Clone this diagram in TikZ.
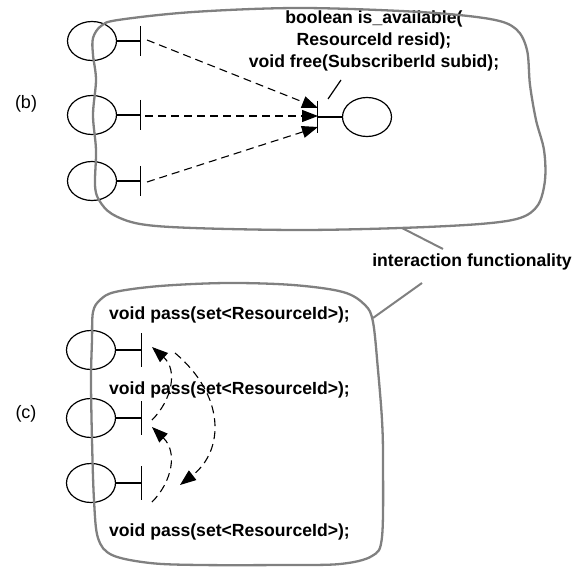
\documentclass[tikz,border=0pt]{standalone}
\usepackage{fontspec}
\setmainfont{Liberation Sans}
\usetikzlibrary{arrows.meta,shapes.geometric,calc}
\definecolor{cloudgray}{RGB}{128,128,128}
\begin{document}
\begin{tikzpicture}[x=1pt,y=-1pt,
  lol/.style={draw,ellipse,minimum width=49pt,minimum height=39pt,inner sep=0pt,line width=1.2pt},
  stem/.style={line width=1.2pt},
  cloudline/.style={draw=cloudgray,line width=2.3pt},
  pointer/.style={draw=cloudgray,line width=2pt},
  dasharrow/.style={line width=1.1pt,dash pattern=on 8pt off 5pt,-{Triangle[length=16pt,width=12pt]}},
  lbl/.style={font=\bfseries\fontsize{17.6}{22}\selectfont,inner sep=0pt},
  tag/.style={font=\fontsize{18}{20}\selectfont,inner sep=0pt},
]
\useasboundingbox (0,0) rectangle (581,567);

% ---------- (b) ----------
\node[tag] (tb) at (26,104) {(b)};
\node[lol] (b1) at (92,41) {};
\node[lol] (b2) at (92,115) {};
\node[lol] (b3) at (92,181) {};
\node[lol] (br) at (367,117) {};
\foreach \n in {b1,b2,b3}{
  \draw[stem] (\n.east) -- ++(23.5,0) coordinate (\n bar);
  \draw[stem] ($(\n bar)+(0,-15)$) -- ($(\n bar)+(0,15)$);
}
\draw[stem] (br.west) -- ++(-24.5,0) coordinate (brbar);
\draw[stem] ($(brbar)+(0,-16)$) -- ($(brbar)+(0,16)$);

\coordinate (s1) at (147,40);
\coordinate (s2) at (145,116);
\coordinate (s3) at (147,182);
\coordinate (e1) at (318,108);
\coordinate (e2) at (318,116);
\coordinate (e3) at (318,127);
\draw[dasharrow] (s1) -- (e1);
\draw[dasharrow] (s2) -- (e2);
\draw[dasharrow] (s3) -- (e3);

\node[lbl,align=center] (iface) at (374,41)
  {boolean is\_available(\\ResourceId resid);\\void free(SubscriberId subid);};
\coordinate (slashA) at (341,80);
\coordinate (slashB) at (328,99);
\draw[stem] (slashA) -- (slashB);

\draw[cloudline] plot[smooth cycle,tension=0.55] coordinates {
  (93,38) (101,26) (118,20) (193,12) (300,8) (420,12) (490,19) (516,29)
  (527,50) (530,85) (536,120) (544,150) (545,180) (538,205) (520,218)
  (480,224) (400,228) (300,230) (193,228) (140,224) (112,214) (99,200)
  (95,185) (96,150) (93,115) (96,80) (93,55)};

% ---------- pointer label ----------
\node[lbl] (ifn) at (472,262) {interaction functionality};
\coordinate (pt1) at (402,228);
\coordinate (pe1) at (443,249);
\coordinate (pt2) at (373,318);
\coordinate (pe2) at (422,283);
\draw[pointer] (pt1) -- (pe1);
\draw[pointer] (pt2) -- (pe2);

% ---------- (c) ----------
\node[tag] (tc) at (26,414) {(c)};
\node[lol] (c1) at (91,350) {};
\node[lol] (c2) at (91,418) {};
\node[lol] (c3) at (91,483) {};
\foreach \n in {c1,c2,c3}{
  \draw[stem] (\n.east) -- ++(25.5,0) coordinate (\n bar);
  \draw[stem] ($(\n bar)+(0,-17)$) -- ($(\n bar)+(0,17)$);
}
\node[lbl,anchor=west] (p1) at (109,315) {void pass(set<ResourceId>);};
\node[lbl,anchor=west] (p2) at (109,390) {void pass(set<ResourceId>);};
\node[lbl,anchor=west] (p3) at (109,532) {void pass(set<ResourceId>);};

\coordinate (ca) at (152,420);
\coordinate (cat) at (152,347);
\coordinate (cb) at (152,502);
\coordinate (cbt) at (152,427);
\coordinate (cc) at (175,353);
\coordinate (cct) at (180,485);
\draw[dasharrow] (ca) .. controls (172,400) and (178,370) .. (cat);
\draw[dasharrow] (cb) .. controls (172,482) and (178,452) .. (cbt);
\draw[dasharrow] (cc) .. controls (225,395) and (225,450) .. (cct);

\draw[cloudline] plot[smooth cycle,tension=0.55] coordinates {
  (93,312) (100,300) (115,292) (160,286) (227,283) (293,285) (343,292)
  (365,305) (373,322) (378,370) (382,420) (383,460) (382,537) (372,556)
  (340,564) (283,565) (200,565) (150,563) (112,555) (98,538) (94,500)
  (92,440) (91,380) (92,340)};
\end{tikzpicture}
\end{document}
